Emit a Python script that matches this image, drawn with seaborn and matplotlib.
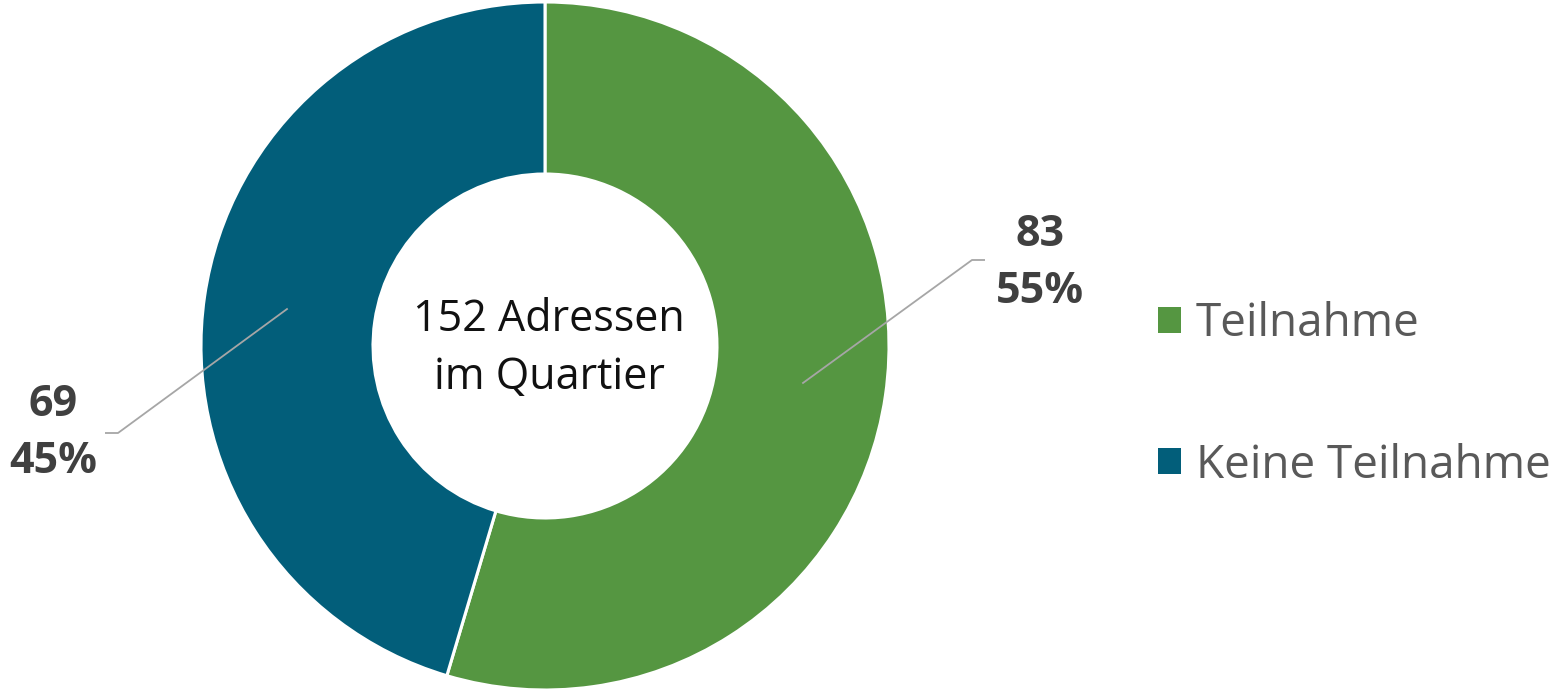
import numpy as np
import matplotlib
matplotlib.use("Agg")
import matplotlib.pyplot as plt
import seaborn as sns

# data
categories = ["Teilnahme", "Keine Teilnahme"]
counts = [83, 69]
center_label = "152 Adressen\nim Quartier"

sns.set_theme(style="white")
plt.rcParams["font.family"] = ["Open Sans", "DejaVu Sans"]

palette = sns.color_palette(["#559641", "#025E7A"])

W, H = 1560, 693
fig = plt.figure(figsize=(W / 100, H / 100), dpi=100)
ax = fig.add_axes([0, 0, 1, 1])

cx, cy = 545, H - 346
r_out = 344
ring = 172

wedges, _ = ax.pie(
    counts,
    colors=palette,
    startangle=90,
    counterclock=False,
    center=(cx, cy),
    radius=r_out,
    wedgeprops={"width": ring, "edgecolor": "white", "linewidth": 2.2},
    frame=True,
)
ax.set_xlim(0, W)
ax.set_ylim(0, H)
ax.set_aspect("equal")
ax.axis("off")

ax.text(cx + 4, cy - 3, center_label, ha="center", va="center",
        fontsize=31, color="#111111", linespacing=1.4)

# data labels with leader lines
total = sum(counts)
label_pos = [(1040, H - 263), (53, H - 433)]
elbow_y = [H - 260, H - 433]
for w, n, (lx, ly), ey in zip(wedges, counts, label_pos, elbow_y):
    mid = np.deg2rad((w.theta1 + w.theta2) / 2)
    px = cx + 260 * np.cos(mid)
    py = cy + 260 * np.sin(mid)
    side = 1 if np.cos(mid) > 0 else -1
    ex = cx + side * 427
    ax.plot([px, ex, ex + side * 13], [py, ey, ey], color="#A6A6A6", lw=1.3,
            solid_capstyle="butt")
    ax.text(lx, ly, f"{n}\n{n / total:.0%}", ha="center", va="center",
            fontsize=31, fontweight="bold", color="#404040", linespacing=1.45)

leg = ax.legend(
    wedges, categories,
    loc="center left", bbox_to_anchor=(1158 / W, 1 - 395 / H),
    frameon=False, fontsize=33, labelcolor="#595959",
    handlelength=0.5, handleheight=0.5, handletextpad=0.33,
    labelspacing=2.08, borderaxespad=0, borderpad=0,
)
for h in leg.legend_handles:
    h.set_edgecolor("none")

fig.savefig("out.png", dpi=100)
